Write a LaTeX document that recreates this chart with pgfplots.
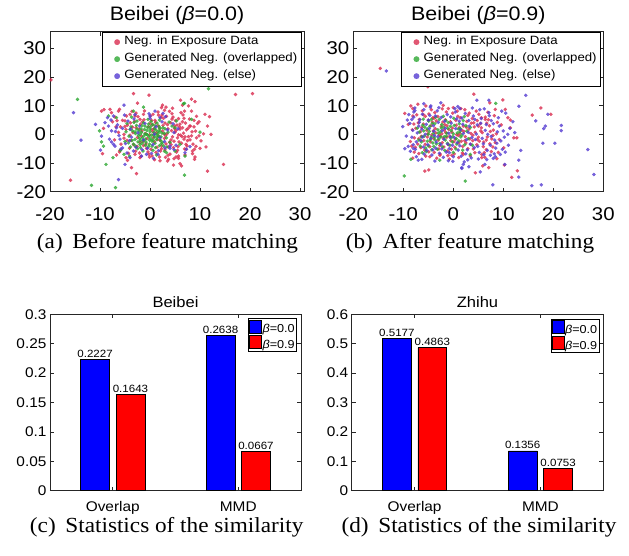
\documentclass[border=0pt]{standalone}
\usepackage{fontspec}
\setmainfont{Liberation Sans}[FakeStretch=1.1]
\newfontfamily\capfont{Liberation Serif}[FakeStretch=1.08]
\usepackage{pgfplots}
\pgfplotsset{compat=1.18}

\definecolor{negred}{RGB}{218,45,80}
\definecolor{gengreen}{RGB}{45,168,50}
\definecolor{genblue}{RGB}{85,60,210}
\definecolor{barblue}{RGB}{0,0,255}
\definecolor{barred}{RGB}{255,0,0}

\pgfplotsset{
  scat/.style={
    scale only axis, width=254pt, height=160pt,
    xmin=-20, xmax=30.8, ymin=-20, ymax=35.8,
    xtick={-20,-10,...,30}, ytick={-20,-10,...,30},
    tick align=inside, major tick length=4pt,
    axis line style={line width=0.6pt, black!85},
    every tick/.style={black!85, line width=0.6pt},
    /pgf/number format/assume math mode=true,
    tick label style={font=\fontsize{18.5}{20}\selectfont},
    xticklabel style={anchor=base, yshift=-28.3pt},
    yticklabel style={xshift=-0.5pt},
    title style={font=\fontsize{19.5}{22}\selectfont, at={(0.5,1)}, anchor=base, yshift=5pt},
    legend style={at={(0.99,1)}, anchor=north east, draw=black, fill=white,
      font=\fontsize{12}{14}\selectfont, inner sep=2pt, row sep=0.5pt,
      nodes={inner sep=2pt, text height=9pt, text depth=3.5pt}},
    legend cell align=left,
    legend image code/.code={\draw[opacity=0] (0pt,0pt) -- (18pt,0pt);
      \draw[##1, only marks, mark size=2.8pt] plot coordinates {(13pt,0pt)};},
  },
  pts/.style={only marks, mark=*, mark size=1.7pt, color=#1,
    mark options={draw=#1, fill=#1, line width=0.1pt, opacity=0.8}},
  bars/.style={
    scale only axis, width=251pt, height=176.4pt,
    xmin=0.5, xmax=2.5, ymin=0,
    ybar, bar width=0.229,
    xtick={1,2}, xticklabels={Overlap,MMD},
    tick align=inside, major tick length=4pt,
    axis line style={line width=0.6pt, black!85},
    every tick/.style={black!85, line width=0.6pt},
    tick label style={font=\fontsize{14}{16}\selectfont},
    xticklabel style={anchor=base, yshift=-20.5pt},
    title style={font=\fontsize{15}{17}\selectfont, at={(0.5,1)}, anchor=base, yshift=0.5pt},
    legend style={draw=black, fill=white, font=\fontsize{11.5}{13}\selectfont,
      inner sep=1pt, row sep=0pt, nodes={inner sep=0.8pt}},
    legend image code/.code={\draw[##1, draw=black, line width=0.5pt] (0pt,-3.5pt) rectangle (12pt,9.5pt);},
    nodes near coords, point meta=explicit symbolic,
    every node near coord/.append style={font=\fontsize{10.5}{12}\selectfont, inner sep=1.5pt},
  },
  bar/.style={fill=#1, draw=black, line width=0.6pt},
}

\begin{document}
\begin{tikzpicture}
\useasboundingbox (0pt,0pt) rectangle (629pt,555pt);

% (a)
\begin{axis}[scat, at={(50pt,523.3pt)}, anchor=north west,
  title={Beibei (\textit{β}=0.0)}]
\addplot[pts=negred] coordinates {
(-4.5,3.2) (-3.8,-2.1) (-3.1,4.5) (-2.6,-4.2) (-2.2,1.8) (-1.7,-0.6) (-1.2,5.1) (-0.8,-3.3) (-0.3,2.7) (0.2,-5.2)
(0.6,0.9) (1.1,4.2) (1.5,-1.8) (1.9,2.2) (2.3,-3.9) (2.7,5.6) (3.1,-0.4) (3.5,3.4) (3.9,-2.7) (4.3,1.3)
(4.7,-4.6) (5.1,4.8) (5.5,-1.2) (5.9,2.6) (6.3,-3.1) (6.7,0.4) (7.1,3.9) (7.5,-2.2) (-4.1,-4.8) (-3.4,0.6)
(-2.9,-5.9) (-2.4,6.2) (-1.9,3.6) (-1.4,-2.5) (-0.9,0.3) (-0.4,-6.1) (0.1,6.4) (0.5,3.3) (0.9,-2.6) (1.3,0.5)
(1.7,6.7) (2.1,-5.8) (2.5,1.1) (2.9,-1.4) (3.3,6.3) (3.7,-4.4) (4.1,4.1) (4.5,-0.9) (4.9,2.1) (5.3,-6.2)
(5.7,5.5) (6.1,-0.3) (6.5,4.4) (6.9,-5.1) (7.3,1.6) (7.7,-0.8) (8.1,2.9) (-5.2,-1.3) (-4.8,1.7) (-5.5,4.9)
(-4.3,-6.6) (0.4,-7.5) (1.6,7.8) (2.9,8.4) (4.4,7.2) (3.6,-7.3) (5.2,-7.9) (-1.1,8.2) (-2.8,7.4) (6.6,6.8)
(7.9,5.3) (8.6,-3.4) (9.1,1.1) (-0.1,-0.2) (0.8,1.9) (1.8,-0.7) (2.6,3.1) (3.4,0.2) (4.2,-1.9) (5.0,0.8)
(5.8,-2.6) (-0.6,-1.5) (-1.6,1.2) (-2.5,-1.1) (-3.5,2.5) (-4.0,-0.3) (0.3,4.9) (1.4,-4.5) (2.2,5.9) (3.0,-5.4)
(4.6,6.0) (5.4,3.2) (6.0,1.8) (6.8,-1.7) (7.4,-4.0) (8.3,-0.5) (9.5,3.8) (10.2,-2.3) (8.8,4.9) (0.9,-8.8)
(2.0,-9.2) (-1.8,-7.7) (3.2,9.5) (-3.6,8.0)
(-2.8,2.3) (-2.0,-2.8) (-1.5,4.4) (-0.7,-4.9) (0.0,3.8) (0.7,-1.1) (1.2,-6.3) (1.6,3.0) (2.0,-2.0) (2.4,6.7)
(2.8,0.2) (3.2,-3.3) (3.6,1.9) (4.0,-6.9) (4.4,5.3) (4.8,-2.4) (5.2,1.4) (5.6,-4.3) (6.0,3.6) (6.4,-0.8)
(6.8,5.6) (7.2,-3.5) (7.6,2.1) (8.0,-1.9) (8.4,0.9) (-3.3,-3.6) (-3.9,4.0) (-4.6,-2.1) (-5.0,2.8) (-5.8,-3.4)
(-6.3,0.7) (-6.6,4.8) (-6.1,-6.1) (-3.0,-7.0) (0.6,7.0) (1.9,-7.9) (3.9,8.0) (5.5,-5.6) (6.2,7.6) (7.0,-7.2)
(9.8,-0.5) (9.3,6.3) (10.0,-4.9) (-1.3,-3.9) (0.4,1.6) (1.0,4.9) (2.3,-5.0) (3.0,3.9) (4.2,-3.6) (4.9,3.0)
(5.7,-0.2) (6.5,2.3) (7.0,-0.9) (-2.1,-6.5) (-0.2,-7.0) (3.1,-8.0) (4.8,-8.5) (-7.1,-1.9) (-6.8,2.6) (8.9,-5.2)
(-19.8,19) (-15.9,-16) (-9.7,8.1) (-9.2,8.6) (-8,8.7) (-7.7,7.6) (-6.3,8.1) (-6.1,8.7) (-3.3,14.2) (-2.5,10.9)
(-0.2,13.7) (-7,6) (-7.5,4.4) (-9.3,2.1) (-9.5,-6.7) (-6.7,-7.2) (-6,-5.6) (-4.8,-8.1) (-3.7,-11.6) (-2.7,-13.7)
(-4.5,-9.1) (-2,-8.1) (-0.1,-7.9) (-5.2,0) (-5.9,2.6) (-5,4.7) (-4.7,6.4) (-4,7) (-3,6.4) (-1.3,7)
(-2,5.2) (6.1,11.9) (8.3,12.3) (9,11.4) (7.7,9.9) (8.3,8.1) (6.9,8.1) (6.5,10.2) (2.5,10.2) (2.3,9.3)
(4.5,9.1) (11.9,6.2) (11,7) (9.8,4.4) (11.5,2.9) (12.2,0) (10.7,0.2) (9.3,-1.2) (8.8,2.6) (7.9,2.9)
(11.2,-4.4) (9.2,-4.2) (8.5,-5.8) (8.5,-6.7) (9,-7.9) (8.9,-8.7) (7.2,-5.2) (5.7,-7.6) (5.7,-8.4) (3.7,-8.7)
(3.5,-9.3) (4.7,-10.7) (6,-10.2) (6.3,-11) (14.7,-10.5) (11.5,-12.8) (17.1,13.9) (20.5,14.2)
};
\addplot[pts=gengreen] coordinates {
(-3.5,1.2) (-3.0,-1.8) (-2.7,3.1) (-2.3,-0.4) (-2.0,-3.6) (-1.8,1.9) (-1.5,-1.2) (-1.3,4.0) (-1.0,0.2) (-0.8,-2.7)
(-0.5,2.4) (-0.3,-4.3) (0.0,0.9) (0.2,-1.6) (0.5,3.5) (0.7,-0.2) (1.0,-3.1) (1.2,1.5) (1.5,-1.0) (1.8,2.8)
(2.1,-2.2) (2.4,0.4) (2.7,-4.0) (3.0,1.9) (-4.2,-0.6) (-3.8,2.6) (-3.3,-3.4) (-2.9,0.3) (-2.5,-5.0) (-2.2,1.1)
(-1.9,-2.1) (-1.6,3.0) (-1.2,-0.5) (-0.9,-3.8) (-0.6,1.4) (-0.2,-0.9) (0.1,2.7) (0.4,-2.4) (0.8,0.6) (1.1,-4.6)
(1.4,3.9) (1.7,-0.6) (2.0,1.0) (2.3,-3.2) (2.6,2.3) (3.3,-1.2) (3.6,0.8) (-4.6,3.8) (-3.9,-4.4) (4.0,-2.8)
(4.4,2.9) (-0.4,5.2) (0.6,-5.6) (-2.6,4.6) (1.9,5.0) (-1.4,-5.8) (2.9,-5.9) (-5.0,-2.5) (-4.8,0.9) (3.8,4.3)
(-1.1,1.7) (0.3,-0.3) (-0.7,0.0) (1.3,-1.8) (-2.1,-1.4) (0.9,2.0) (-1.7,0.7) (2.2,-0.9) (-0.1,-2.0) (1.6,0.3)
(-2.4,-2.6) (-1.6,-3.1) (-0.9,-1.7) (-0.1,-3.4) (0.6,-2.0) (1.3,-0.1) (2.0,2.0) (-3.0,0.9) (-2.0,0.0) (-1.0,2.9)
(0.0,1.8) (1.0,3.0) (-3.6,-2.2) (-0.5,-0.2) (0.4,-4.1) (1.9,-3.9) (-1.9,-4.6) (-4.0,1.7) (2.9,0.3) (-2.9,-4.1)
(-0.3,3.6) (0.9,-0.9) (-1.3,-2.2) (-2.6,1.8) (1.7,1.1) (2.5,-2.8) (-4.3,-3.0) (3.4,-4.4) (-3.2,4.2) (0.2,4.5)
(-14.5,12.2) (-11.7,-17.8) (-6.9,-18.6) (-10.1,1.2) (-8.8,-10.5) (-7.4,-8.1) (-9.7,-2.6) (-9.3,-4.1) (-6.7,5.8) (-8.3,6.4)
(-3.7,6) (-3.3,8.1) (-1.3,9.5) (-5.9,-5.6) (-5.2,-7) (-4.1,-7.6) (11.7,15.9) (6.7,10.7) (6.9,10.8) (8.3,5.2)
(10,0.8) (6.9,-14.2) (7,-7.6) (1.3,-7.2) (3.3,-6.4) (5,-5.8) (6,-3.5) (5,2.3) (5.3,4.7)
};
\addplot[pts=genblue] coordinates {
(-5.5,2.1) (-4.9,-3.2) (-4.4,4.6) (-3.7,-1.0) (-3.2,5.4) (-2.8,-4.5) (-2.1,2.9) (-1.6,-5.3) (-1.0,3.8) (-0.5,-4.9)
(0.0,5.6) (0.6,-3.6) (1.2,2.6) (1.7,-5.7) (2.4,4.4) (2.9,-2.5) (3.5,1.6) (4.0,-4.9) (4.6,3.7) (5.2,-3.8)
(-6.2,-0.4) (-5.8,-5.1) (-6.5,3.3) (-4.6,-6.5) (-3.0,6.9) (-0.2,7.2) (1.6,-7.0) (3.1,6.2) (-2.4,0.5) (-3.9,1.8)
(0.9,0.1) (2.0,-1.2) (-1.3,-1.9) (4.8,0.6) (5.6,1.9) (-5.1,6.7) (-6.9,1.0) (-4.1,-2.2) (0.3,-6.6) (2.6,7.3)
(-15.3,7.6) (-13.8,-2) (-10.9,3.5) (-9.7,-0.6) (-9.9,-5.5) (-6.3,-15.8) (-5.2,10.2) (-7.8,5) (-8.3,2.9) (-8.1,-1.7)
(-7.7,-2.6) (-7.3,-3.5) (-7,-4.1) (-6,-1.7) (-5.5,-4.7) (-5,-10.5) (-4,-8.1) (-3.3,-5.8) (-1.7,-7.6) (-0.7,-7)
(-9,4.1) (-8.5,5.8) (-7.3,6.4) (-6.7,2.3) (-7.7,1.2) (1,8.1) (0.7,-8.4) (8,-4.3) (7.3,-5.2) (7,-6.4)
(4.8,-5.3) (0,6.4) (2,5.8) (3,-4.7) (4,-4.1)
};
\legend{Neg. in Exposure Data, Generated Neg. (overlapped), Generated Neg. (else)}
\end{axis}

% (b)
\begin{axis}[scat, at={(353.3pt,523.3pt)}, anchor=north west, width=250pt, xmax=30,
  title={Beibei (\textit{β}=0.9)}]
\addplot[pts=negred] coordinates {
(-7.5,2.1) (-7.1,-3.4) (-6.8,5.2) (-6.4,-0.7) (-6.0,3.6) (-5.7,-5.5) (-5.3,1.4) (-4.9,7.1) (-4.6,-2.6) (-4.2,4.3)
(-3.8,-6.3) (-3.5,0.5) (-3.1,6.2) (-2.7,-3.9) (-2.4,2.8) (-2.0,-1.3) (-1.6,5.1) (-1.2,-5.8) (-0.9,1.7) (-0.5,-2.2)
(-0.1,7.4) (0.3,-4.5) (0.6,3.2) (1.0,-0.4) (1.4,5.8) (1.8,-6.5) (2.1,1.0) (2.5,-3.0) (2.9,6.6) (3.3,-1.6)
(3.6,3.9) (4.0,-5.1) (4.4,0.7) (4.8,4.8) (5.2,-2.4) (5.6,2.3) (6.0,-4.3) (6.4,6.0) (6.8,-0.9) (7.2,3.0)
(7.6,-6.0) (8.0,1.5) (8.4,-2.9) (8.8,4.2) (-7.8,-1.2) (-7.3,6.8) (-6.9,-6.7) (-6.2,8.2) (-5.5,-7.6) (-4.4,8.6)
(-3.3,-8.3) (-2.2,8.9) (-1.1,-7.4) (0.0,9.3) (1.1,-8.1) (2.3,8.6) (3.4,-7.5) (4.6,8.1) (5.7,-7.0) (6.9,7.7)
(7.9,-4.4) (-6.6,0.9) (-5.9,-2.2) (-5.0,4.9) (-4.3,-0.2) (-3.6,2.0) (-2.9,-5.1) (-2.3,0.2) (-1.7,3.4) (-1.0,-3.6)
(-0.3,0.8) (0.4,-1.7) (1.2,2.4) (1.9,-4.2) (2.7,4.5) (3.5,-3.5) (4.2,2.6) (5.0,-1.0) (5.8,0.6) (6.6,-2.0)
(7.4,1.0) (-7.0,4.0) (-6.5,-4.6) (-5.6,6.3) (-4.7,-4.3) (-3.9,5.6) (-3.0,-2.0) (-2.1,4.3) (-1.3,-1.0) (-0.6,4.4)
(0.2,-6.8) (0.9,6.3) (1.6,-2.4) (2.4,-0.8) (3.1,1.8) (3.9,-0.3) (4.7,-3.6) (5.4,3.7) (6.2,-6.4) (7.0,5.1)
(7.7,-1.6) (8.6,0.2) (9.2,-1.8) (9.6,3.3) (-8.2,1.6) (-8.6,-2.5) (-1.5,0.6) (0.7,-0.1) (-2.6,-0.6) (-4.0,1.2)
(2.0,2.9) (3.8,5.5) (-0.8,-8.6) (1.5,9.0) (5.1,7.0) (6.3,-8.0)
(-6.9,-1.5) (-6.3,2.4) (-5.6,-3.5) (-5.1,0.2) (-4.5,3.0) (-3.9,-1.5) (-3.4,4.7) (-2.8,-0.3) (-2.2,-2.9) (-1.8,1.5)
(-1.3,3.0) (-0.7,-0.6) (-0.2,2.2) (0.5,4.9) (1.1,-3.0) (1.7,1.5) (2.3,-2.2) (2.9,-5.0) (3.5,0.3) (4.1,4.0)
(4.8,-1.8) (5.5,1.2) (6.1,-2.7) (6.7,3.9) (7.3,-3.3) (7.9,-0.4) (-7.6,-4.5) (-7.9,3.6) (-6.0,6.9) (-4.9,-6.1)
(-3.7,7.6) (-2.6,-6.9) (-1.4,7.8) (-0.4,-5.2) (0.8,8.1) (2.0,-7.0) (3.2,7.4) (4.3,-6.4) (5.6,5.8) (6.6,-5.3)
(8.2,6.5) (9.0,-6.3) (-5.2,-0.9) (-4.1,5.8) (-1.9,-4.4) (0.1,-2.6) (1.3,0.3) (2.6,2.5) (3.9,-2.2) (5.0,2.9)
(-14.6,23) (-5.1,16.6) (-9.7,7.3) (-8.5,9.9) (-8.1,9) (-7.1,10.5) (-5.5,9.9) (-2,10.1) (-1,9) (-9,3.5)
(-8.1,6.4) (-8.3,-4.1) (-7.8,-6.2) (-8.1,-8.3) (-5.7,-12.8) (-4.9,-12.4) (-4.7,-7.8) (-2.7,-7.3) (-0.3,-7.3) (4.1,14)
(7.3,11) (9.9,12) (17.5,9.2) (19.5,7) (15.8,6.7) (12.8,-12.7) (11.7,-15) (10.2,-10.7) (11.4,2.3) (11.4,5)
(12.1,-1.2) (12.7,-1.2) (8.7,-8.5) (7.1,-11.6) (5.9,-11) (4.4,-13.4) (5.7,-8.1) (10.1,-4.7) (10.9,5.8) (10.4,8.7)
(8.4,8.7) (6.4,5.2)
};
\addplot[pts=gengreen] coordinates {
(-6.8,0.8) (-6.4,-2.6) (-6.1,3.2) (-5.8,-0.6) (-5.5,-4.8) (-5.2,1.9) (-4.9,4.6) (-4.6,-1.9) (-4.3,-5.4) (-4.0,0.3)
(-3.7,3.7) (-3.4,-3.3) (-3.1,1.6) (-2.8,5.2) (-2.5,-0.9) (-2.2,-4.4) (-1.9,2.5) (-1.6,-2.0) (-1.3,0.4) (-1.0,4.1)
(-0.7,-3.8) (-0.4,1.3) (-0.1,-0.8) (0.2,3.1) (0.5,-5.1) (0.8,0.5) (1.1,-2.3) (1.4,2.0) (1.7,-0.3) (2.0,4.8)
(2.3,-3.6) (2.7,1.1) (3.0,-1.5) (-6.6,-4.1) (-6.0,5.3) (-5.4,-6.0) (-4.7,2.8) (-4.1,-3.0) (-3.5,6.0) (-2.9,-1.6)
(-2.3,3.4) (-1.7,-5.6) (-1.1,2.1) (-0.5,-1.3) (0.1,5.6) (0.7,-3.4) (1.3,0.9) (1.9,-5.5) (2.5,3.0) (-7.2,2.2)
(-5.0,0.0) (-3.8,-1.0) (-2.6,0.9) (-1.4,-0.6) (-0.2,-2.6) (1.0,1.9) (3.4,2.4) (3.8,-3.8) (-5.9,1.2) (-4.4,-0.9)
(-3.2,-5.2) (-2.0,6.3) (0.0,-6.3) (2.2,6.2) (-6.2,-6.4) (1.5,-0.9)
(-6.3,-0.9) (-5.7,2.5) (-5.2,-2.4) (-4.8,1.0) (-4.2,3.8) (-3.6,-2.0) (-3.0,0.4) (-2.4,2.2) (-1.8,-0.8) (-1.2,-3.1)
(-0.6,2.8) (0.0,0.2) (0.6,-1.5) (1.2,3.7) (-5.0,-4.0) (-3.9,-4.2) (-2.7,-3.2) (-6.9,-2.0) (-4.4,5.2) (-1.5,4.8)
(-9.8,-14.5) (-8.5,-8.7) (-2.7,-9) (8.5,10.8) (2.4,-16.3) (3.4,-7)
};
\addplot[pts=genblue] coordinates {
(-8.7,3.8) (-8.3,-1.0) (-7.9,6.0) (-7.6,-5.2) (-7.2,0.5) (-6.9,2.9) (-6.5,-2.1) (-6.2,7.0) (-5.8,-6.9) (-5.4,3.5)
(-5.1,-3.6) (-4.7,6.6) (-4.3,-7.2) (-3.9,1.1) (-3.5,-4.8) (-3.2,8.2) (-2.8,-6.6) (-2.4,5.9) (-2.0,-8.0) (-1.6,2.1)
(-1.2,6.9) (-0.8,-5.0) (-0.4,3.9) (0.0,-7.8) (0.4,7.8) (0.8,-2.9) (1.2,4.6) (1.6,-7.6) (2.0,0.3) (2.4,7.3)
(2.8,-5.4) (3.2,2.9) (3.6,-8.2) (4.0,6.4) (4.4,-1.8) (4.8,3.3) (5.2,-6.3) (5.6,5.5) (6.0,-3.3) (6.4,1.4)
(6.8,-5.6) (7.2,6.5) (7.6,-0.7) (8.0,3.7) (8.5,-4.8) (9.0,5.8) (9.5,-2.3) (10.0,1.2) (-8.0,-3.6) (-7.4,-7.8)
(-6.7,5.1) (-6.0,-4.4) (-5.6,0.0) (-5.0,5.0) (-4.5,-1.4) (-4.0,3.0) (-3.4,-2.7) (-3.0,4.2) (-2.5,-3.5) (-1.9,-1.7)
(-1.4,-6.2) (-0.9,0.4) (-0.2,-3.8) (0.5,2.0) (1.0,-5.5) (1.7,5.7) (2.6,-1.9) (3.4,-3.4) (4.2,-4.6) (5.0,-8.6)
(5.8,-1.4) (6.6,3.4) (7.4,-3.8) (8.2,-6.8) (8.8,0.9) (9.8,-5.2) (-9.4,-0.6) (-9.0,-4.2) (-8.9,6.9) (-7.0,-9.0)
(-3.7,-9.3) (-1.0,-9.2) (2.2,-9.6) (0.9,9.7) (-4.6,9.5) (3.8,9.2) (6.2,8.9) (10.5,7.4) (11.0,-3.8) (-2.2,1.3)
(-0.6,-0.9) (1.4,1.6) (3.0,0.7) (4.6,0.1) (-6.3,1.8) (-3.8,-0.4)
(-8.1,1.4) (-7.4,-2.6) (-6.8,4.2) (-6.1,-0.9) (-5.3,-5.6) (-4.8,2.0) (-4.1,-5.4) (-3.6,6.4) (-3.1,-0.8) (-2.3,-5.1)
(-1.7,4.6) (-1.1,-3.4) (-0.5,6.1) (0.2,-1.1) (0.7,5.4) (1.3,-4.0) (1.9,3.5) (2.5,-6.8) (3.1,4.8) (3.7,-1.1)
(4.3,5.2) (4.9,-4.2) (5.5,3.9) (6.1,-7.1) (6.9,0.0) (7.6,4.8) (8.3,-2.0) (9.2,2.9) (-8.6,-5.9) (-5.9,8.6)
(-0.1,-9.4) (5.3,8.6) (8.0,-8.4) (10.2,-1.0) (11.3,2.1) (-9.2,5.0) (-2.9,9.3) (2.9,-8.9) (6.7,-8.8) (-7.7,8.3)
(-13.4,22.1) (-7.7,9.2) (-5.9,10.7) (-4.5,9.9) (-2.5,11) (0.3,9) (1.3,9) (-10.1,2.7) (-8.3,5.2) (-7.9,7.8)
(-9.7,-5) (-8,-4.9) (-6.3,-8.7) (-0.8,-6.4) (1.7,-11.6) (2,-10.5) (4.7,11.9) (7.1,11.9) (14.5,13.6) (13.1,9.8)
(18.9,7) (16.5,4.7) (18.1,2) (18.4,2.9) (21.6,3.1) (21.6,1.3) (17.9,-3.1) (20.3,-3.1) (26.9,-5.3) (28.1,-14)
(17.6,-17.6) (15.7,-17.9) (13.1,-14.9) (13.5,-5.6) (13.1,-9) (7.9,-17.6) (10.3,-10.5) (11.9,4.4) (12.3,0.6) (10.9,0)
(10.4,-6.2) (9.4,-7) (6.3,-10.5) (3.1,-11.3) (1.7,-11.9) (5.4,-13.1) (7.4,-7.3) (8.4,-7.8) (8.7,-3.1) (9.7,8.1)
(7.1,7.6)
};
\legend{Neg. in Exposure Data, Generated Neg. (overlapped), Generated Neg. (else)}
\end{axis}

% (c)
\begin{axis}[bars, at={(50pt,240.7pt)}, anchor=north west, ymax=0.3,
  ytick={0,0.05,...,0.3}, yticklabels={0,0.05,0.1,0.15,0.2,0.25,0.3},
  title={Beibei},
  legend style={at={(0.983,0.977)}, anchor=north east}]
\addplot[bar=barblue, bar shift=-0.141] coordinates {(1,0.2227) [0.2227] (2,0.2638) [0.2638]};
\addplot[bar=barred, bar shift=0.141] coordinates {(1,0.1643) [0.1643] (2,0.0667) [0.0667]};
\legend{\textit{β}=0.0, \textit{β}=0.9}
\end{axis}

% (d)
\begin{axis}[bars, at={(351.7pt,240.7pt)}, anchor=north west, width=251.6pt, ymax=0.6,
  ytick={0,0.1,...,0.6}, yticklabels={0,0.1,0.2,0.3,0.4,0.5,0.6},
  title={Zhihu},
  legend style={at={(0.984,0.972)}, anchor=north east}]
\addplot[bar=barblue, bar shift=-0.141] coordinates {(1,0.5177) [0.5177] (2,0.1356) [0.1356]};
\addplot[bar=barred, bar shift=0.141] coordinates {(1,0.4863) [0.4863] (2,0.0753) [0.0753]};
\legend{\textit{β}=0.0, \textit{β}=0.9}
\end{axis}

\node[anchor=base, font=\capfont\fontsize{21.5}{24}\selectfont] at (167.5pt,306.7pt) {(a)\hspace{0.45em}Before feature matching};
\node[anchor=base, font=\capfont\fontsize{21.5}{24}\selectfont] at (470pt,306.7pt) {(b)\hspace{0.45em}After feature matching};
\node[anchor=base, font=\capfont\fontsize{21.5}{24}\selectfont] at (166.7pt,23pt) {(c)\hspace{0.45em}Statistics of the similarity};
\node[anchor=base, font=\capfont\fontsize{21.5}{24}\selectfont] at (479pt,23pt) {(d)\hspace{0.45em}Statistics of the similarity};
\end{tikzpicture}
\end{document}
